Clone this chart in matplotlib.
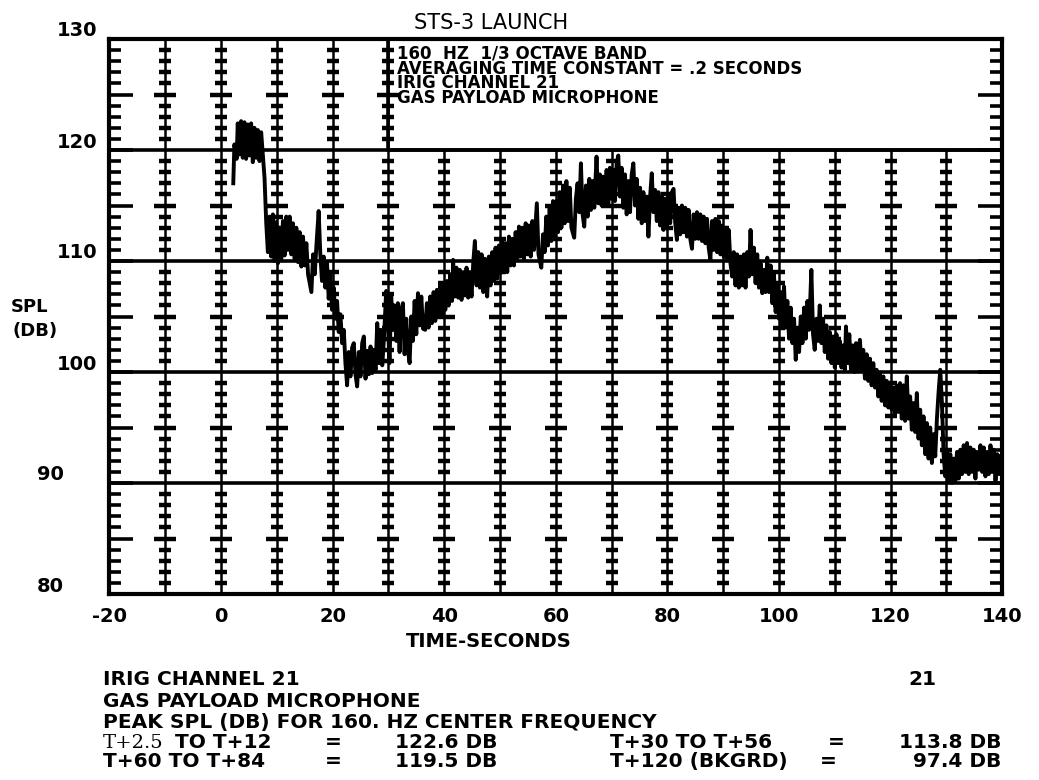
"""STS-3 launch: 160 Hz 1/3-octave SPL at the GAS payload microphone (IRIG ch 21)."""

import matplotlib

matplotlib.use("Agg")
import matplotlib.pyplot as plt
import matplotlib.transforms as mtransforms
from matplotlib.patches import Rectangle
from matplotlib.ticker import MultipleLocator

W, H = 1039, 780

# ---- data (time s, SPL dB) ----
t_liftoff = [2.2, 2.4, 2.8, 3.0, 3.3, 3.6, 3.9, 4.2, 4.5, 4.8, 5.1, 5.4, 5.7, 6.0, 6.3,
             6.6, 6.9, 7.2, 7.5, 7.8, 8.1, 8.4, 8.7, 9.0, 9.3, 9.6, 9.9, 10.2, 10.5, 10.8,
             11.1, 11.4, 11.7, 12.0, 12.3, 12.6, 12.9, 13.2, 13.5, 13.8, 14.1, 14.4, 14.7,
             15.0, 15.3, 15.6, 15.9, 16.2, 16.5, 16.8, 17.1, 17.5, 17.8, 18.1, 18.4, 18.7,
             19.0, 19.3, 19.6, 19.9, 20.2, 20.5, 20.8, 21.1, 21.4, 21.7, 22.0, 22.3, 22.6,
             22.9, 23.2, 23.5, 23.8, 24.1, 24.4, 24.7, 25.0, 25.3, 25.6, 25.9, 26.2, 26.5,
             26.8, 27.1, 27.4, 27.7, 28.0, 28.3, 28.6, 28.9, 29.2, 29.6, 29.9, 30.2, 30.5,
             30.8]
spl_liftoff = [117.0, 120.5, 119.2, 122.4, 119.6, 122.6, 119.3, 122.5, 119.2, 122.3, 119.5,
               122.4, 118.9, 122.0, 119.3, 121.8, 119.0, 121.6, 119.5, 117.5, 113.5, 110.8,
               114.0, 110.4, 114.2, 110.0, 113.5, 109.8, 113.0, 110.2, 113.6, 110.5, 114.0,
               111.0, 114.0, 110.6, 113.4, 110.2, 113.0, 109.9, 112.6, 109.5, 112.2, 109.6,
               111.6, 108.8, 108.0, 107.2, 110.6, 108.8, 111.4, 114.5, 110.6, 108.2, 110.4,
               107.6, 109.8, 106.6, 108.8, 105.6, 107.6, 104.8, 106.4, 103.6, 105.2, 102.6,
               103.8, 100.8, 98.8, 101.8, 99.6, 102.2, 102.6, 99.8, 98.7, 101.8, 99.6,
               102.6, 103.2, 99.4, 101.9, 99.8, 102.3, 99.9, 102.0, 100.2, 104.4, 100.8,
               103.8, 100.6, 103.0, 107.3, 104.6, 100.8, 106.8, 103.8]

t_ascent = [31.1, 31.4, 31.7, 32.0, 32.3, 32.6, 32.9, 33.2, 33.5, 33.8, 34.1, 34.4, 34.7,
            35.0, 35.3, 35.6, 35.9, 36.2, 36.6, 36.9, 37.2, 37.5, 37.8, 38.1, 38.4, 38.7,
            39.0, 39.3, 39.6, 39.9, 40.2, 40.5, 40.8, 41.1, 41.4, 41.6, 41.9, 42.2, 42.5,
            42.8, 43.1, 43.4, 43.7, 44.0, 44.3, 44.6, 44.9, 45.2, 45.5, 45.8, 46.1, 46.4,
            46.7, 47.0, 47.3, 47.7, 48.0, 48.3, 48.6, 48.9, 49.2, 49.5, 49.8, 50.1, 50.4,
            50.7, 51.0, 51.3, 51.6, 51.9, 52.2, 52.5, 52.8, 53.1, 53.4, 53.7, 54.0, 54.3,
            54.6, 54.9, 55.2, 55.5, 55.8, 56.1, 56.6, 56.9, 57.4, 57.7, 58.0, 58.3, 58.6,
            58.9, 59.2, 59.5, 59.8, 60.1, 60.4, 60.7, 61.0, 61.3, 61.6, 61.9, 62.2, 62.5,
            62.8, 63.3, 63.6, 63.9, 64.2, 64.5, 64.8, 65.1, 65.4, 65.7, 66.0, 66.3, 66.6,
            66.9, 67.3, 67.6, 67.9, 68.2, 68.5, 68.8, 69.1, 69.4, 69.7, 70.0, 70.3, 70.6,
            70.9, 71.2]
spl_ascent = [106.0, 102.8, 106.2, 101.8, 105.6, 106.2, 101.6, 104.8, 102.0, 100.8, 105.0,
              102.8, 106.4, 103.4, 107.1, 104.2, 106.8, 103.9, 103.8, 106.2, 104.0, 106.8,
              104.4, 107.2, 104.6, 107.4, 105.0, 107.8, 105.2, 107.9, 105.6, 108.2, 106.0,
              108.8, 106.4, 110.1, 106.8, 109.4, 106.7, 109.2, 106.5, 109.0, 106.9, 109.4,
              106.7, 109.0, 106.8, 109.8, 111.8, 107.8, 110.8, 107.6, 110.6, 107.2, 110.2,
              106.8, 110.4, 107.8, 110.8, 108.2, 111.2, 108.4, 111.4, 108.9, 111.8, 109.2,
              111.6, 109.0, 112.2, 109.6, 112.0, 109.6, 112.6, 110.2, 113.1, 110.4, 113.0,
              110.2, 113.4, 110.6, 113.2, 110.4, 113.6, 111.0, 115.2, 110.6, 109.4, 112.4,
              110.8, 114.0, 111.4, 114.8, 111.8, 115.4, 112.2, 115.4, 112.6, 116.2, 113.0,
              116.8, 113.4, 117.2, 113.6, 116.6, 113.0, 112.1, 115.6, 117.0, 114.4, 118.8,
              114.2, 113.1, 116.8, 114.0, 117.4, 114.6, 117.2, 114.8, 119.4, 115.2, 117.8,
              115.0, 117.6, 115.2, 118.2, 115.0, 118.4, 115.6, 118.2, 115.4, 118.8, 119.5]

t_decay = [71.5, 71.8, 72.1, 72.4, 72.7, 73.0, 73.3, 73.6, 73.9, 74.2, 74.5, 74.8, 75.1,
           75.4, 75.7, 76.0, 76.3, 76.6, 76.9, 77.2, 77.5, 77.8, 78.1, 78.4, 78.7, 79.0,
           79.3, 79.6, 79.9, 80.2, 80.5, 80.8, 81.1, 81.4, 81.7, 82.0, 82.3, 82.6, 82.9,
           83.2, 83.5, 83.8, 84.1, 84.4, 84.7, 85.0, 85.3, 85.6, 85.9, 86.2, 86.5, 86.8,
           87.1, 87.4, 87.7, 88.0, 88.3, 88.6, 88.9, 89.2, 89.5, 89.8, 90.1, 90.4, 90.7,
           91.0, 91.3, 91.6, 91.9, 92.2, 92.5, 92.8, 93.1, 93.4, 93.7, 94.0, 94.3, 94.6,
           94.9, 95.2, 95.5, 95.8, 96.1, 96.4, 96.7, 97.0, 97.3, 97.6, 97.9, 98.2, 98.5,
           98.8, 99.1, 99.4, 99.7, 100.0, 100.3, 100.6, 100.9, 101.2, 101.5, 101.8, 102.1,
           102.4, 102.7, 103.0, 103.3, 103.6, 103.9, 104.2, 104.5, 104.8, 105.1, 105.4,
           105.8, 106.1, 106.4, 106.7, 107.0, 107.3, 107.6, 107.9, 108.2, 108.5, 108.8,
           109.1, 109.4, 109.7, 110.0, 110.3, 110.6, 110.9, 111.2, 111.5, 111.8, 112.0,
           112.3, 112.6, 112.9, 113.2, 113.5, 113.8, 114.1, 114.5, 114.8, 115.1, 115.4,
           115.7, 116.0, 116.3, 116.6, 116.9, 117.2, 117.5, 117.8, 118.1, 118.4, 118.7,
           119.0, 119.3, 119.6, 119.9, 120.2, 120.5, 120.8, 121.1, 121.4, 121.7, 122.0,
           122.3, 122.6, 122.9, 123.2, 123.5, 123.8, 124.1, 124.4, 124.7, 125.0, 125.3,
           125.6, 125.9, 126.2, 126.5, 126.8, 127.1, 127.4, 127.7, 128.0, 128.3, 128.6,
           128.9, 129.2, 129.5, 129.8, 130.1, 130.4, 130.7, 131.0, 131.3, 131.6, 131.9,
           132.2, 132.5, 132.8, 133.1, 133.4, 133.7, 134.0, 134.3, 134.6, 134.9, 135.2,
           135.5, 135.8, 136.1, 136.4, 136.7, 137.0, 137.3, 137.6, 137.9, 138.2, 138.5,
           138.8, 139.1, 139.4, 139.7]
spl_decay = [115.8, 118.4, 114.8, 117.8, 114.2, 117.2, 114.4, 117.8, 118.8, 115.0, 117.4,
             113.8, 116.6, 113.4, 116.2, 113.6, 115.8, 112.2, 115.8, 117.9, 114.4, 116.4,
             113.6, 116.2, 113.2, 115.8, 112.8, 115.6, 113.0, 116.0, 113.4, 116.2, 116.5,
             113.4, 111.9, 114.8, 112.4, 115.0, 112.6, 114.8, 112.2, 114.6, 112.0, 111.1,
             114.2, 112.0, 114.4, 112.0, 114.2, 111.8, 114.0, 111.6, 113.8, 111.2, 110.1,
             113.6, 111.0, 113.8, 110.8, 113.6, 110.6, 113.2, 110.4, 113.0, 110.2, 112.8,
             109.8, 108.6, 110.8, 107.8, 110.6, 107.6, 110.4, 107.8, 110.6, 107.6, 110.8,
             108.6, 112.8, 108.8, 111.2, 108.0, 110.6, 107.6, 109.8, 107.1, 109.2, 107.2,
             110.3, 107.2, 109.6, 106.2, 108.8, 105.4, 108.0, 104.8, 107.2, 104.2, 107.7,
             104.0, 106.4, 103.0, 105.8, 102.6, 104.8, 101.1, 104.0, 101.8, 105.0, 102.6,
             105.8, 103.0, 106.4, 103.8, 109.2, 103.4, 102.0, 104.8, 102.8, 106.0, 102.6,
             104.8, 101.8, 104.2, 101.2, 103.6, 100.8, 103.2, 100.4, 103.4, 100.8, 102.8,
             100.4, 102.4, 100.2, 104.1, 100.8, 103.4, 100.2, 102.4, 100.0, 102.6, 100.2,
             102.9, 100.2, 102.0, 99.4, 101.6, 99.2, 101.2, 98.8, 100.8, 98.6, 100.2, 97.8,
             99.8, 97.4, 99.6, 97.0, 99.2, 96.8, 99.0, 96.6, 98.6, 96.2, 98.8, 96.4, 99.0,
             95.8, 98.8, 95.6, 99.6, 95.8, 97.8, 94.8, 97.2, 94.6, 98.1, 94.0, 96.6, 93.4,
             96.0, 92.6, 95.4, 92.2, 95.0, 91.8, 94.4, 92.4, 95.8, 98.2, 100.2, 97.2, 92.6,
             90.6, 93.0, 90.2, 92.6, 90.0, 92.2, 90.2, 92.8, 90.4, 93.0, 90.8, 93.4, 91.0,
             93.6, 90.8, 93.2, 91.0, 93.0, 90.4, 92.8, 91.2, 93.4, 91.0, 93.2, 90.6, 92.8,
             90.8, 93.4, 91.2, 93.0, 90.2, 92.6, 90.8, 92.4]

x_ticks = [-20, 0, 20, 40, 60, 80, 100, 120, 140]
x_tick_labels = ["-20", "0", "20", "40", "60", "80", "100", "120", "140"]
y_ticks = [130, 120, 110, 100, 90, 80]
y_tick_labels = ["130", "120", "110", "100", "90", "80"]

box_lines = ["160  HZ  1/3 OCTAVE BAND",
             "AVERAGING TIME CONSTANT = .2 SECONDS",
             "IRIG CHANNEL 21",
             "GAS PAYLOAD MICROPHONE"]
footer_lines = ["IRIG CHANNEL 21",
                "GAS PAYLOAD MICROPHONE",
                "PEAK SPL (DB) FOR 160. HZ CENTER FREQUENCY"]
peak_left = [("T+2.5", " TO T+12", "122.6 DB"), ("", "T+60 TO T+84", "119.5 DB")]
peak_right = [("T+30 TO T+56", "113.8 DB"), ("T+120 (BKGRD)", "97.4 DB")]

t_all = t_liftoff + t_ascent + t_decay
spl_all = spl_liftoff + spl_ascent + spl_decay
assert len(t_all) == len(spl_all)

plt.rcParams["font.family"] = ["DejaVu Sans"]


def fxy(px, py):
    """pixel position (from top-left) -> figure fraction"""
    return px / W, 1 - py / H


fig = plt.figure(figsize=(W / 100, H / 100), dpi=100)
ax_l, ax_r, ax_t, ax_b = 109.4, 1002.2, 39.0, 594.0
ax = fig.add_axes([ax_l / W, 1 - ax_b / H, (ax_r - ax_l) / W, (ax_b - ax_t) / H])
ax.set_xlim(-20, 140)
ax.set_ylim(80, 130)

# ladder-style vertical grid every 10 s (stops under the legend box right of t=30)
for t in range(-10, 140, 10):
    top = 130 if t <= 30 else 120
    ax.plot([t, t], [80, top], color="k", lw=1.8, zorder=2, solid_capstyle="butt")
    ys = [y for y in range(81, top) if y % 10]
    small = [y for y in ys if y % 5]
    big = [y for y in ys if y % 5 == 0]
    ax.plot([t] * len(small), small, ls="none", marker="_", ms=8, mew=3.2,
            color="k", zorder=2)
    ax.plot([t] * len(big), big, ls="none", marker="_", ms=16, mew=3.2,
            color="k", zorder=2)

for y in (90, 100, 110, 120):
    ax.axhline(y, color="k", lw=2.6, zorder=2)

ax.add_patch(Rectangle((30, 120), 110, 10, facecolor="white", edgecolor="k",
                       lw=2.6, zorder=1))

ax.plot(t_all, spl_all, color="k", lw=2.8, zorder=3)

for s in ax.spines.values():
    s.set_linewidth(3)
    s.set_zorder(4)

ax.yaxis.set_major_locator(MultipleLocator(5))
ax.yaxis.set_minor_locator(MultipleLocator(1))
ax.tick_params(axis="y", which="major", direction="in", length=17, width=2.6,
               left=True, right=True, labelleft=False)
ax.tick_params(axis="y", which="minor", direction="in", length=8.5, width=2.6,
               left=True, right=True)

ax.set_xticks(x_ticks)
ax.set_xticklabels(x_tick_labels, fontsize=14, fontweight="bold")
ax.tick_params(axis="x", length=0, pad=9)

# y labels sit slightly above their gridline, left of the frame
lift = mtransforms.ScaledTranslation(0, 8 / 100, fig.dpi_scale_trans)
ytrans = mtransforms.blended_transform_factory(fig.transFigure, ax.transData) + lift
for yv, lab in zip(y_ticks, y_tick_labels):
    xr = 97 if len(lab) == 3 else 64
    ax.text(xr / W, yv, lab, transform=ytrans, ha="right", va="center",
            fontsize=14, fontweight="bold", clip_on=False)

fig.text(*fxy(29, 312), "SPL", ha="center", va="baseline", fontsize=13,
         fontweight="bold")
fig.text(*fxy(35, 336), "(DB)", ha="center", va="baseline", fontsize=13,
         fontweight="bold")

fig.text(*fxy(491, 29), "STS-3 LAUNCH", ha="center", va="baseline", fontsize=15)
fig.text(*fxy(489, 647), "TIME-SECONDS", ha="center", va="baseline", fontsize=14,
         fontweight="bold")

# legend box text: one block, tight plotter line spacing
fig.text(*fxy(397, 45), "\n".join(box_lines), ha="left", va="top", fontsize=12,
         fontweight="bold", linespacing=0.76)

# footer block
for line, base in zip(footer_lines, (685, 707, 728)):
    fig.text(*fxy(103, base), line, ha="left", va="baseline", fontsize=14.5,
             fontweight="bold")
fig.text(*fxy(908, 685), "21", ha="left", va="baseline", fontsize=14.5,
         fontweight="bold")

for (typed, lab, val), base in zip(peak_left, (748, 767)):
    if typed:
        fig.text(*fxy(103, base), typed, ha="left", va="baseline", fontsize=14,
                 family="DejaVu Serif")
        fig.text(*fxy(168, base), lab, ha="left", va="baseline", fontsize=14.5,
                 fontweight="bold")
    else:
        fig.text(*fxy(103, base), lab, ha="left", va="baseline", fontsize=14.5,
                 fontweight="bold")
    fig.text(*fxy(333, base), "=", ha="center", va="baseline", fontsize=14.5,
             fontweight="bold")
    fig.text(*fxy(497, base), val, ha="right", va="baseline", fontsize=14.5,
             fontweight="bold")

for (lab, val), base, eq_x in zip(peak_right, (748, 767), (836, 828)):
    fig.text(*fxy(610, base), lab, ha="left", va="baseline", fontsize=14.5,
             fontweight="bold")
    fig.text(*fxy(eq_x, base), "=", ha="center", va="baseline", fontsize=14.5,
             fontweight="bold")
    fig.text(*fxy(1001, base), val, ha="right", va="baseline", fontsize=14.5,
             fontweight="bold")

fig.savefig("out.png", dpi=100, facecolor="white")
